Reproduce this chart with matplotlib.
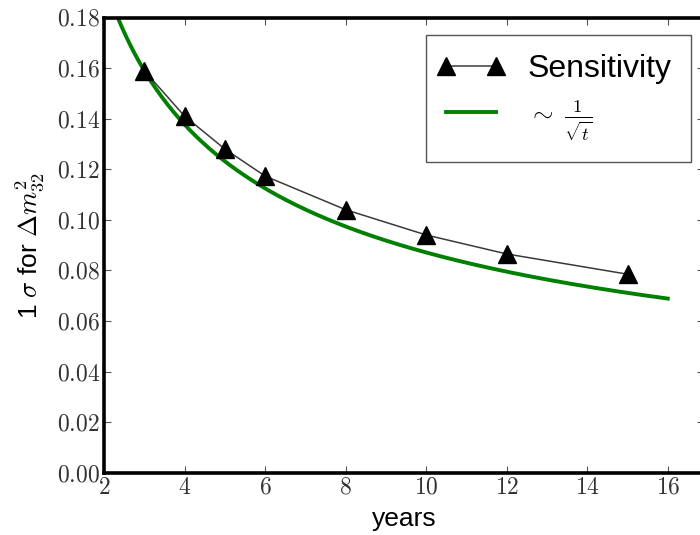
import numpy as np
import matplotlib
matplotlib.use("Agg")
import matplotlib.pyplot as plt
from matplotlib.legend_handler import HandlerLine2D

plt.rcParams["mathtext.fontset"] = "cm"
plt.rcParams["font.family"] = ["Liberation Sans", "DejaVu Sans"]

# Measured 1-sigma sensitivity on Delta m^2_32 versus exposure time
years = [3, 4, 5, 6, 8, 10, 12, 15]
sensitivity = [0.159, 0.141, 0.128, 0.1173, 0.104, 0.094, 0.0865, 0.0785]

# Reference 1/sqrt(t) scaling, normalised to the first measurement
t_curve_range = (2.0, 16.0)
norm = sensitivity[0] * np.sqrt(years[0])

xticks = [2, 4, 6, 8, 10, 12, 14, 16]
yticks = [0.00, 0.02, 0.04, 0.06, 0.08, 0.10, 0.12, 0.14, 0.16, 0.18]

fig = plt.figure(figsize=(7.0, 5.35), dpi=100)
left, bottom, top = 104 / 700, 1 - 472.7 / 535, 1 - 17.5 / 535
px_per_year = 40.27
xmax = 16.9
width = (xmax - 2) * px_per_year / 700
ax = fig.add_axes([left, bottom, width, top - bottom])

t = np.linspace(*t_curve_range, 400)
sens_line, = ax.plot(years, sensitivity, color="#3a3a3a", lw=1.1, marker="^",
                     ms=13, mfc="black", mec="black", label="Sensitivity",
                     zorder=3)
fit_line, = ax.plot(t, norm / np.sqrt(t), color="#008000", lw=2.8,
                    label=r"${\sim}\;\frac{1}{\sqrt{t}}$", zorder=2)

ax.set_xlim(2, xmax)
ax.set_ylim(0, 0.18)
ax.set_xticks(xticks)
ax.set_xticklabels([f"${v}$" for v in xticks])
ax.set_yticks(yticks)
ax.set_yticklabels([f"${v:.2f}$" for v in yticks])
ax.tick_params(direction="in", length=5, width=0.8, color="#555555",
               labelsize=17, labelcolor="#333333", top=True, right=True, pad=3)

for side in ["left", "bottom", "top", "right"]:
    ax.spines[side].set_linewidth(2.6)
    ax.spines[side].set_color("black")

ax.set_xlabel("years", fontsize=19, labelpad=6)
ax.set_ylabel(r"1 $\sigma$ for $\Delta m^2_{32}$", fontsize=19, labelpad=8)

leg = ax.legend(loc="upper right", bbox_to_anchor=(691 / 700, 1 - 35 / 535),
                bbox_transform=fig.transFigure, borderaxespad=0,
                fontsize=23, numpoints=2, handlelength=1.65, fancybox=False,
                framealpha=1, edgecolor="#555555", borderpad=0.6,
                labelspacing=0.45, handletextpad=0.95,
                handler_map={sens_line: HandlerLine2D(marker_pad=0.05),
                             fit_line: HandlerLine2D(marker_pad=0.05)})
leg.get_frame().set_linewidth(1.0)
leg.get_texts()[1].set_fontsize(19)

fig.savefig("out.png", dpi=100)
